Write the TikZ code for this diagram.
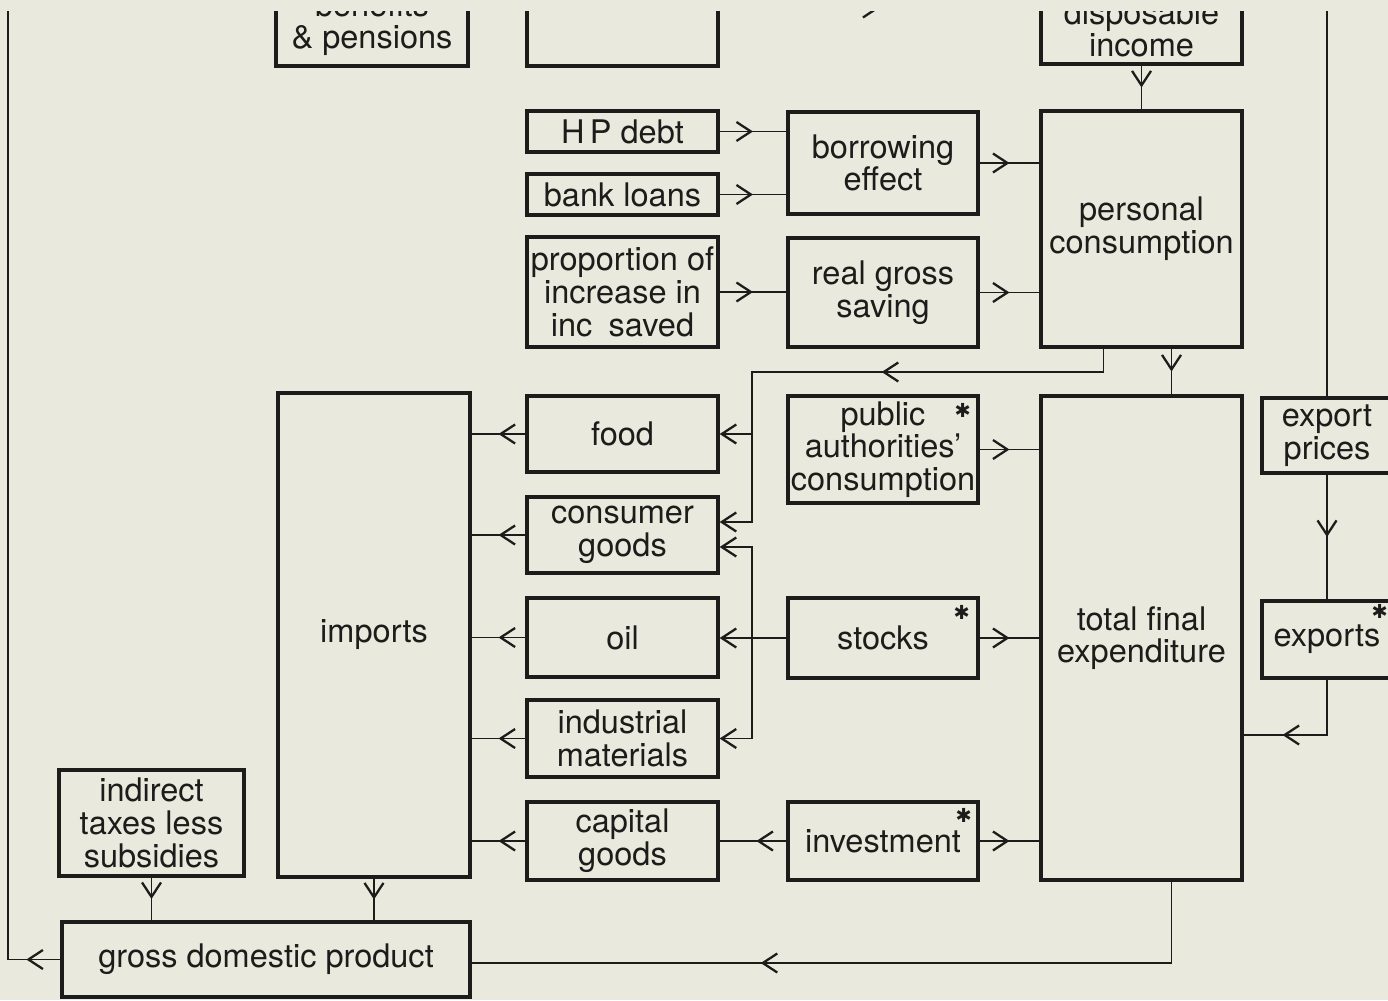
\documentclass[tikz,border=0pt]{standalone}
\usepackage{fontspec}
\setmainfont{TeX Gyre Heros}
\newfontfamily\starfont{DejaVu Sans}
\usetikzlibrary{
  arrows.meta,calc,positioning,decorations.markings
}
\definecolor{PaperTone}{RGB}{234,233,221}
\definecolor{InkGrey}{RGB}{28,28,26}

\begin{document}
\begin{tikzpicture}[x=0.02cm,y=-0.02cm,>={Straight Barb[length=2.9mm,width=3.8mm,line width=1.3pt]},
    box/.style={draw=InkGrey,line width=1.9pt,inner sep=0pt,align=center,
      text=InkGrey,font=\fontsize{18.5}{18.6}\selectfont},
    wh/.style 2 args={minimum width=#1*0.02cm,minimum height=#2*0.02cm},
    conn/.style={draw=InkGrey,line width=1.1pt},
    midarr/.style={postaction={decorate},decoration={markings,
      mark=at position #1 with {\arrow{>}}}},
    midarr/.default=0.5,
    asterisk/.style={text=InkGrey,inner sep=0pt,font=\starfont\fontsize{11}{11}\selectfont}]
  \fill[PaperTone] (0,0) rectangle (1388,1000);
  \useasboundingbox (0,0) rectangle (1388,1000);
  \begin{scope}
  \clip (0,12) rectangle (1388,1000);
  \node[box,wh={192}{84}] (benefits) at (372,24) {benefits\\\& pensions};
  \node[box,wh={191}{84}] (upperA) at (622.5,24) {};
  \node[box,wh={201}{70}] (dispinc) at (1141.5,29) {disposable\\income};
  \node[box,wh={191}{41}] (hpdebt) at (622.5,131.5) {H\,P debt};
  \node[box,wh={191}{41}] (bankloans) at (622.5,194.5) {bank loans};
  \node[box,wh={191}{110}] (propsaved) at (622.5,292) {proportion of\\increase in\\inc\enspace saved};
  \node[box,wh={190}{102}] (borrowing) at (883,163) {borrowing\\effect};
  \node[box,wh={190}{109}] (saving) at (883,292.5) {real gross\\saving};
  \node[box,wh={201}{236}] (perscons) at (1141.5,229) {personal\\consumption};
  \node[box,wh={191}{76}] (food) at (622.5,434) {food};
  \node[box,wh={191}{76}] (consgoods) at (622.5,535) {consumer\\goods};
  \node[box,wh={191}{79}] (oil) at (622.5,637.5) {oil};
  \node[box,wh={191}{77}] (indmat) at (622.5,738.5) {industrial\\materials};
  \node[box,wh={191}{78}] (capgoods) at (622.5,841) {capital\\goods};
  \node[box,wh={190}{107}] (pubauth) at (883,449.5) {public\\authorities’\\consumption};
  \node[box,wh={190}{80}] (stocks) at (883,638) {stocks};
  \node[box,wh={190}{78}] (investment) at (883,841) {investment};
  \node[box,wh={201}{484}] (tfe) at (1141.5,638) {total final\\expenditure};
  \node[box,wh={130}{75}] (expprices) at (1327,435.5) {export\\prices};
  \node[box,wh={130}{77}] (exports) at (1327,639.5) {exports};
  \node[box,wh={192}{484}] (imports) at (374,635) {imports};
  \node[box,wh={185}{106}] (indtax) at (151.5,823) {indirect\\taxes less\\subsidies};
  \node[box,wh={408}{75}] (gdp) at (266,959.5) {gross domestic product};
  \node[asterisk] (pubstar) at ($(pubauth.north east)+(-17,16)$) {✱};
  \node[asterisk] (stockstar) at ($(stocks.north east)+(-18,16)$) {✱};
  \node[asterisk] (invstar) at ($(investment.north east)+(-16,15)$) {✱};
  \node[asterisk] (expstar) at ($(exports.north east)+(-14,12)$) {✱};
  \coordinate (pcsplit) at (752,372);
  \coordinate (stsplit) at (stocks.west -| pcsplit);
  \coordinate (lefttop) at (8,-10);
  \coordinate (righttop) at (expprices.north |- 0,-10);
  \draw[conn,midarr] (upperA.east |- 0,8) -- (dispinc.west |- 0,8);
  \draw[conn,midarr] (hpdebt.east) -- (hpdebt.east -| borrowing.west);
  \draw[conn,midarr] (bankloans.east) -- (bankloans.east -| borrowing.west);
  \draw[conn,midarr] (propsaved.east) -- (propsaved.east -| saving.west);
  \draw[conn,midarr] (borrowing.east) -- (borrowing.east -| perscons.west);
  \draw[conn,midarr] (saving.east) -- (saving.east -| perscons.west);
  \draw[conn,midarr] (dispinc.south) -- (perscons.north);
  \draw[conn,->,midarr=0.44] ($(perscons.south)+(-38,0)$) |- (pcsplit) |- ($(consgoods.east)+(0,-13)$);
  \draw[conn,->] (pcsplit |- food.east) -- (food.east);
  \draw[conn,->] (stocks.west) -- (stocks.west -| oil.east);
  \draw[conn,->] (stsplit) |- ($(consgoods.east)+(0,12)$);
  \draw[conn,->] (stsplit) |- (indmat.east);
  \draw[conn,midarr=0.45] (investment.west) -- (capgoods.east);
  \draw[conn,midarr] (investment.east) -- (investment.east -| tfe.west);
  \draw[conn,midarr] (stocks.east) -- (stocks.east -| tfe.west);
  \draw[conn,midarr] (pubauth.east) -- (pubauth.east -| tfe.west);
  \draw[conn,midarr] ($(perscons.south)+(30,0)$) -- ($(tfe.north)+(30,0)$);
  \draw[conn] (righttop) -- (expprices.north);
  \draw[conn,midarr] (expprices.south) -- (exports.north);
  \draw[conn,midarr=0.72] (exports.south) |- (tfe.east |- 0,735);
  \draw[conn,midarr=0.63] ($(tfe.south)+(30,0)$) |- (gdp.east |- 0,963);
  \draw[conn,midarr] (imports.south) -- (imports.south |- gdp.north);
  \draw[conn,midarr] (indtax.south) -- (indtax.south |- gdp.north);
  \foreach \src in {food,consgoods,oil,indmat,capgoods}
    \draw[conn,midarr] (\src.west) -- (\src.west -| imports.east);
  \draw[conn,midarr=0.68cm] (gdp.west) -| (lefttop);
  \end{scope}
\end{tikzpicture}
\end{document}
